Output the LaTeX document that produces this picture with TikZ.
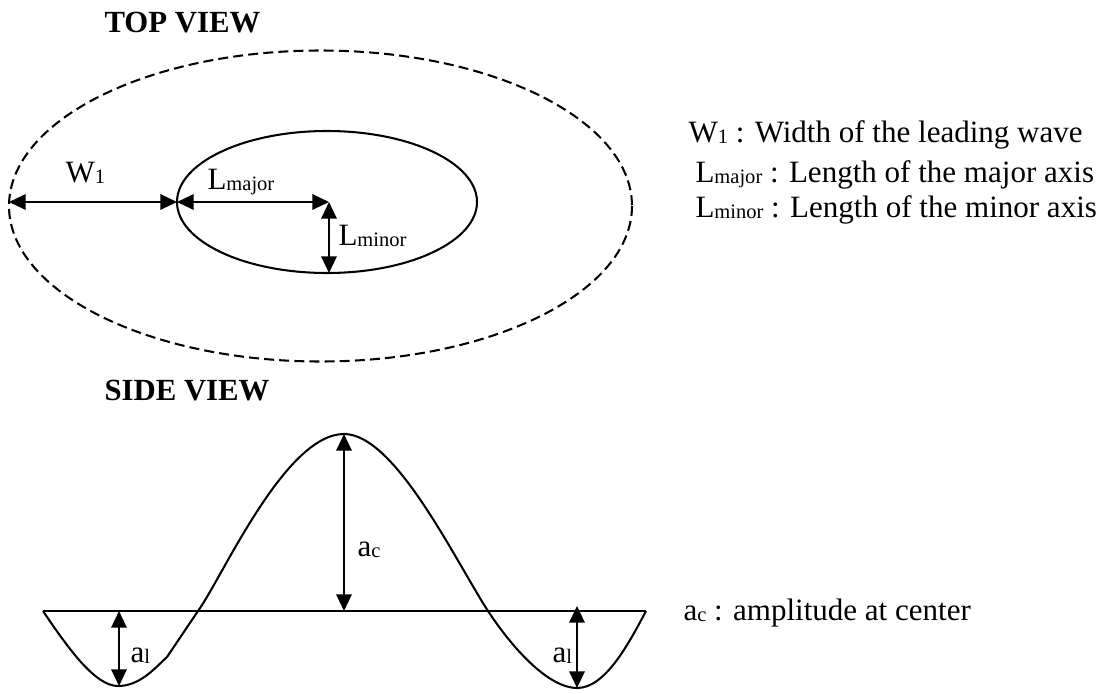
\documentclass[tikz,border=0pt]{standalone}
\usepackage{fontspec}
\setmainfont{Liberation Serif}
\usetikzlibrary{arrows.meta}

% a lowered, smaller subscript in the manner of a word processor
\newcommand{\lowsub}[1]{\raisebox{-0.6pt}{\fontsize{8}{8}\selectfont #1}}

\begin{document}
\begin{tikzpicture}[
  x=0.39pt, y=-0.39pt,
  every node/.style={inner sep=0pt, font=\fontsize{12.1}{14}\selectfont},
  title/.style={anchor=base west, font=\fontsize{12}{14}\selectfont\bfseries},
  lbl/.style={anchor=base west},
  outline/.style={draw, line width=0.8pt},
  wavefront/.style={draw, line width=0.8pt, dash pattern=on 3.9pt off 2pt},
  dim/.style={draw, line width=0.8pt,
    {Triangle[length=6.5pt, width=6pt]}-{Triangle[length=6.5pt, width=6pt]}}]

  \useasboundingbox (0,0) rectangle (1110,693);

  % ---- top view: the leading wave and the ellipse inside it ---------------
  \node[title] (topview) at (104,32) {TOP VIEW};
  \draw[wavefront] (320.5,206) ellipse [x radius=311.5, y radius=155.5];
  \draw[outline] (327,202) ellipse [x radius=150, y radius=71];

  \coordinate (outerL) at (9,202);
  \coordinate (innerL) at (177,202);
  \coordinate (innerC) at (329,202);
  \coordinate (innerB) at (329,273);

  \draw[dim] (outerL) -- (innerL);
  \draw[dim] (innerL) -- (innerC);
  \draw[dim] (innerC) -- (innerB);

  \node[lbl] (wlabel) at (65,182) {W\lowsub{1}};
  \node[lbl] (majlabel) at (207,189) {L\lowsub{major}};
  \node[lbl] (minlabel) at (338,245) {L\lowsub{minor}};

  % ---- legend of the top view ---------------------------------------------
  \node[lbl] (legW) at (688,142) {W\lowsub{1} : Width of the leading wave};
  \node[lbl] (legMaj) at (695,182) {L\lowsub{major} : Length of the major axis};
  \node[lbl] (legMin) at (695,217) {L\lowsub{minor} : Length of the minor axis};

  % ---- side view: the still water line and the wave profile ---------------
  \node[title] (sideview) at (104,400) {SIDE VIEW};
  \draw[outline] (43,611) -- (646,611);
  \draw[outline] (43,611) .. controls (68,648) and (95,686) .. (118,686)
    .. controls (140,686) and (155,668) .. (167,657)
    -- (198,611)
    .. controls (222,578) and (285,434) .. (344,434)
    .. controls (395,434) and (455,560) .. (488,611)
    .. controls (515,652) and (550,688) .. (577,688)
    .. controls (605,688) and (628,645) .. (646,611);

  \coordinate (peak) at (344,434);
  \coordinate (baseC) at (344,611);
  \coordinate (troughL) at (119,686);
  \coordinate (baseL) at (119,611);
  \coordinate (troughR) at (577,688);
  \coordinate (baseR) at (577,606);

  \draw[dim] (peak) -- (baseC);
  \draw[dim] (baseL) -- (troughL);
  \draw[dim] (baseR) -- (troughR);

  \node[lbl] (aclabel) at (357,556) {a\lowsub{c}};
  \node[lbl] (allabelL) at (130,662) {a\lowsub{l}};
  \node[lbl] (allabelR) at (552,662) {a\lowsub{l}};

  % ---- legend of the side view --------------------------------------------
  \node[lbl] (legA) at (683,620) {a\lowsub{c} : amplitude at center};
\end{tikzpicture}
\end{document}
